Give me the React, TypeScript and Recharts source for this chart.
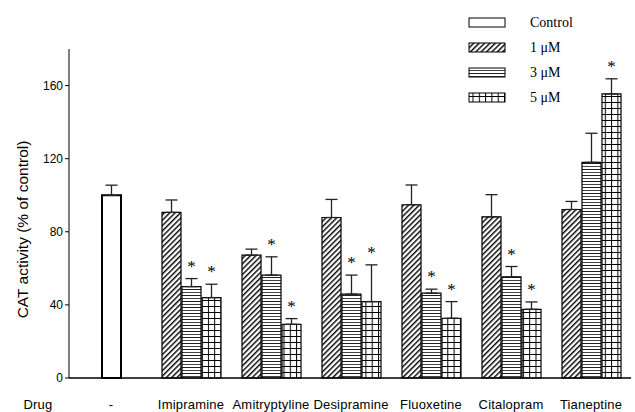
import React from "react";
import { BarChart, Bar, XAxis, YAxis, ErrorBar, Cell, LabelList } from "recharts";

const drugs = ["-", "Imipramine", "Amitryptyline", "Desipramine", "Fluoxetine", "Citalopram", "Tianeptine"];
const control = [100, null, null, null, null, null, null];
const controlErr = [5.5, null, null, null, null, null, null];
const dose1 = [null, 90.6, 67.2, 87.8, 94.8, 88.2, 92.2];
const dose1Err = [null, 6.8, 3.3, 9.9, 10.8, 12.1, 4.4];
const dose3 = [null, 50, 56.3, 45.9, 46.4, 55.3, 118];
const dose3Err = [null, 4.4, 10, 10.4, 2.2, 5.7, 15.9];
const dose5 = [null, 44, 29.4, 41.8, 32.7, 37.6, 155.4];
const dose5Err = [null, 7.3, 3.1, 20.1, 9.1, 4, 8.3];
const sig3 = [false, true, true, true, true, true, false];
const sig5 = [false, true, true, true, true, true, true];
const yTicks = [0, 40, 80, 120, 160];
const legendItems = ["Control", "1 μM", "3 μM", "5 μM"];

// control sits in the middle slot, so it shares the 3 uM series slot
const midVals = drugs.map((_, i) => (control[i] != null ? control[i] : dose3[i]));
const midErr = drugs.map((_, i) => (control[i] != null ? controlErr[i] : dose3Err[i]));

const data = drugs.map((d, i) => ({
  drug: d,
  d1: dose1[i],
  d1e: dose1Err[i] != null ? [0, dose1Err[i]] : null,
  mid: midVals[i],
  mide: midErr[i] != null ? [0, midErr[i]] : null,
  // "value|error|significant" string for the star labels
  s3: dose3[i] != null ? `${dose3[i]}|${dose3Err[i]}|${sig3[i] ? 1 : 0}` : control[i] != null ? `${control[i]}|0|0` : null,
  d5: dose5[i],
  d5e: dose5Err[i] != null ? [0, dose5Err[i]] : null,
  s5: dose5[i] != null ? `${dose5[i]}|${dose5Err[i]}|${sig5[i] ? 1 : 0}` : null,
}));

const sans = "Arial, 'Liberation Sans', sans-serif";
const serif = "'Times New Roman', 'Liberation Serif', serif";

const StarLabel = (props: any) => {
  const { x, y, width, height, value } = props;
  if (value == null) return null;
  const [v, e, s] = String(value).split("|").map(Number);
  if (!s || !v) return null;
  const ppu = Number(height) / v;
  const top = Number(y) - e * ppu;
  return (
    <g>
      <text x={Number(x) + Number(width) / 2} y={top - 7} textAnchor="middle" fontFamily={serif} fontSize={17} style={{ fill: "#000" }}>
        *
      </text>
    </g>
  );
};

const DrugTick = (props: any) => {
  const { x, y, payload } = props;
  return (
    <text x={x} y={y + 23} textAnchor="middle" fontFamily={sans} fontSize={13} letterSpacing={0.2} fill="#000">
      {payload.value}
    </text>
  );
};

const legendFills = ["#fff", "url(#pDiag)", "url(#pLines)", "url(#pGrid)"];

export default function App() {
  return (
    <div style={{ position: "absolute", left: 0, top: 0, width: 635, height: 412, background: "#fff" }}>
      <svg width={635} height={412} style={{ position: "absolute", left: 0, top: 0, pointerEvents: "none" }}>
        <defs>
          <pattern id="pDiag" width="3.8" height="3.8" patternUnits="userSpaceOnUse" patternTransform="rotate(45)">
            <rect width="3.8" height="3.8" fill="#fff" />
            <line x1="0" y1="0" x2="0" y2="3.8" stroke="#000" strokeWidth="2.8" />
          </pattern>
          <pattern id="pLines" width="6" height="6" patternUnits="userSpaceOnUse">
            <rect width="6" height="6" fill="#fff" />
            <line x1="0" y1="1.5" x2="6" y2="1.5" stroke="#222" strokeWidth="1" />
            <line x1="0" y1="4.5" x2="6" y2="4.5" stroke="#444" strokeWidth="1" />
          </pattern>
          <pattern id="pGrid" width="6.3" height="6" patternUnits="userSpaceOnUse">
            <rect width="6.3" height="6" fill="#fff" />
            <line x1="0.5" y1="0" x2="0.5" y2="6" stroke="#000" strokeWidth="1" />
            <line x1="0" y1="0.5" x2="6.3" y2="0.5" stroke="#000" strokeWidth="1" />
          </pattern>
        </defs>
      </svg>
      <BarChart
        width={635}
        height={412}
        data={data}
        margin={{ top: 49, right: 4, bottom: 4, left: 19 }}
        barSize={19}
        barGap={1}
      >
        <XAxis
          dataKey="drug"
          height={30}
          padding={{ left: 2, right: 0 }}
          axisLine={{ stroke: "#000", strokeWidth: 1.5 }}
          tickLine={false}
          tick={<DrugTick />}
          interval={0}
          label={{
            content: (p: any) => (
              <text x={p.viewBox.x - 31} y={p.viewBox.y + 31} textAnchor="middle" fontFamily={sans} fontSize={13} letterSpacing={0.2} fill="#000">
                Drug
              </text>
            ),
          }}
        />
        <YAxis
          width={50}
          domain={[0, 180]}
          ticks={yTicks}
          axisLine={{ stroke: "#000" }}
          tickLine={{ stroke: "#000" }}
          tickSize={4}
          tick={{ fill: "#000", fontSize: 12, fontFamily: sans }}
          label={{
            content: (p: any) => {
              const cx = 22;
              const cy = p.viewBox.y + p.viewBox.height / 2 + 16;
              return (
                <text x={cx} y={cy} transform={`rotate(-90 ${cx} ${cy})`} textAnchor="middle" dominantBaseline="central" fontFamily={sans} fontSize={15.5} fill="#000">
                  CAT activity (% of control)
                </text>
              );
            },
          }}
        />
        <Bar dataKey="d1" fill="url(#pDiag)" stroke="#000" strokeWidth={1.2} isAnimationActive={false}>
          <ErrorBar dataKey="d1e" width={6} stroke="#222" strokeWidth={1.3} />
        </Bar>
        <Bar dataKey="mid" fill="url(#pLines)" stroke="#000" strokeWidth={1.2} isAnimationActive={false}>
          {data.map((_, i) => (
            <Cell key={i} fill={control[i] != null ? "#fff" : "url(#pLines)"} strokeWidth={control[i] != null ? 2 : 1.2} />
          ))}
          <ErrorBar dataKey="mide" width={6} stroke="#222" strokeWidth={1.3} />
          <LabelList dataKey="s3" content={<StarLabel />} />
        </Bar>
        <Bar dataKey="d5" fill="url(#pGrid)" stroke="#000" strokeWidth={1.2} isAnimationActive={false}>
          <ErrorBar dataKey="d5e" width={6} stroke="#222" strokeWidth={1.3} />
          <LabelList dataKey="s5" content={<StarLabel />} />
        </Bar>
      </BarChart>
      <svg width={635} height={412} style={{ position: "absolute", left: 0, top: 0, pointerEvents: "none" }}>
        {legendItems.map((name, i) => (
          <g key={name}>
            <rect x={469} y={18 + i * 25} width={36} height={9} fill={legendFills[i]} stroke="#000" strokeWidth={1} />
            <text x={530} y={27 + i * 25} fontFamily={serif} fontSize={14} fill="#000">
              {name}
            </text>
          </g>
        ))}
      </svg>
    </div>
  );
}
